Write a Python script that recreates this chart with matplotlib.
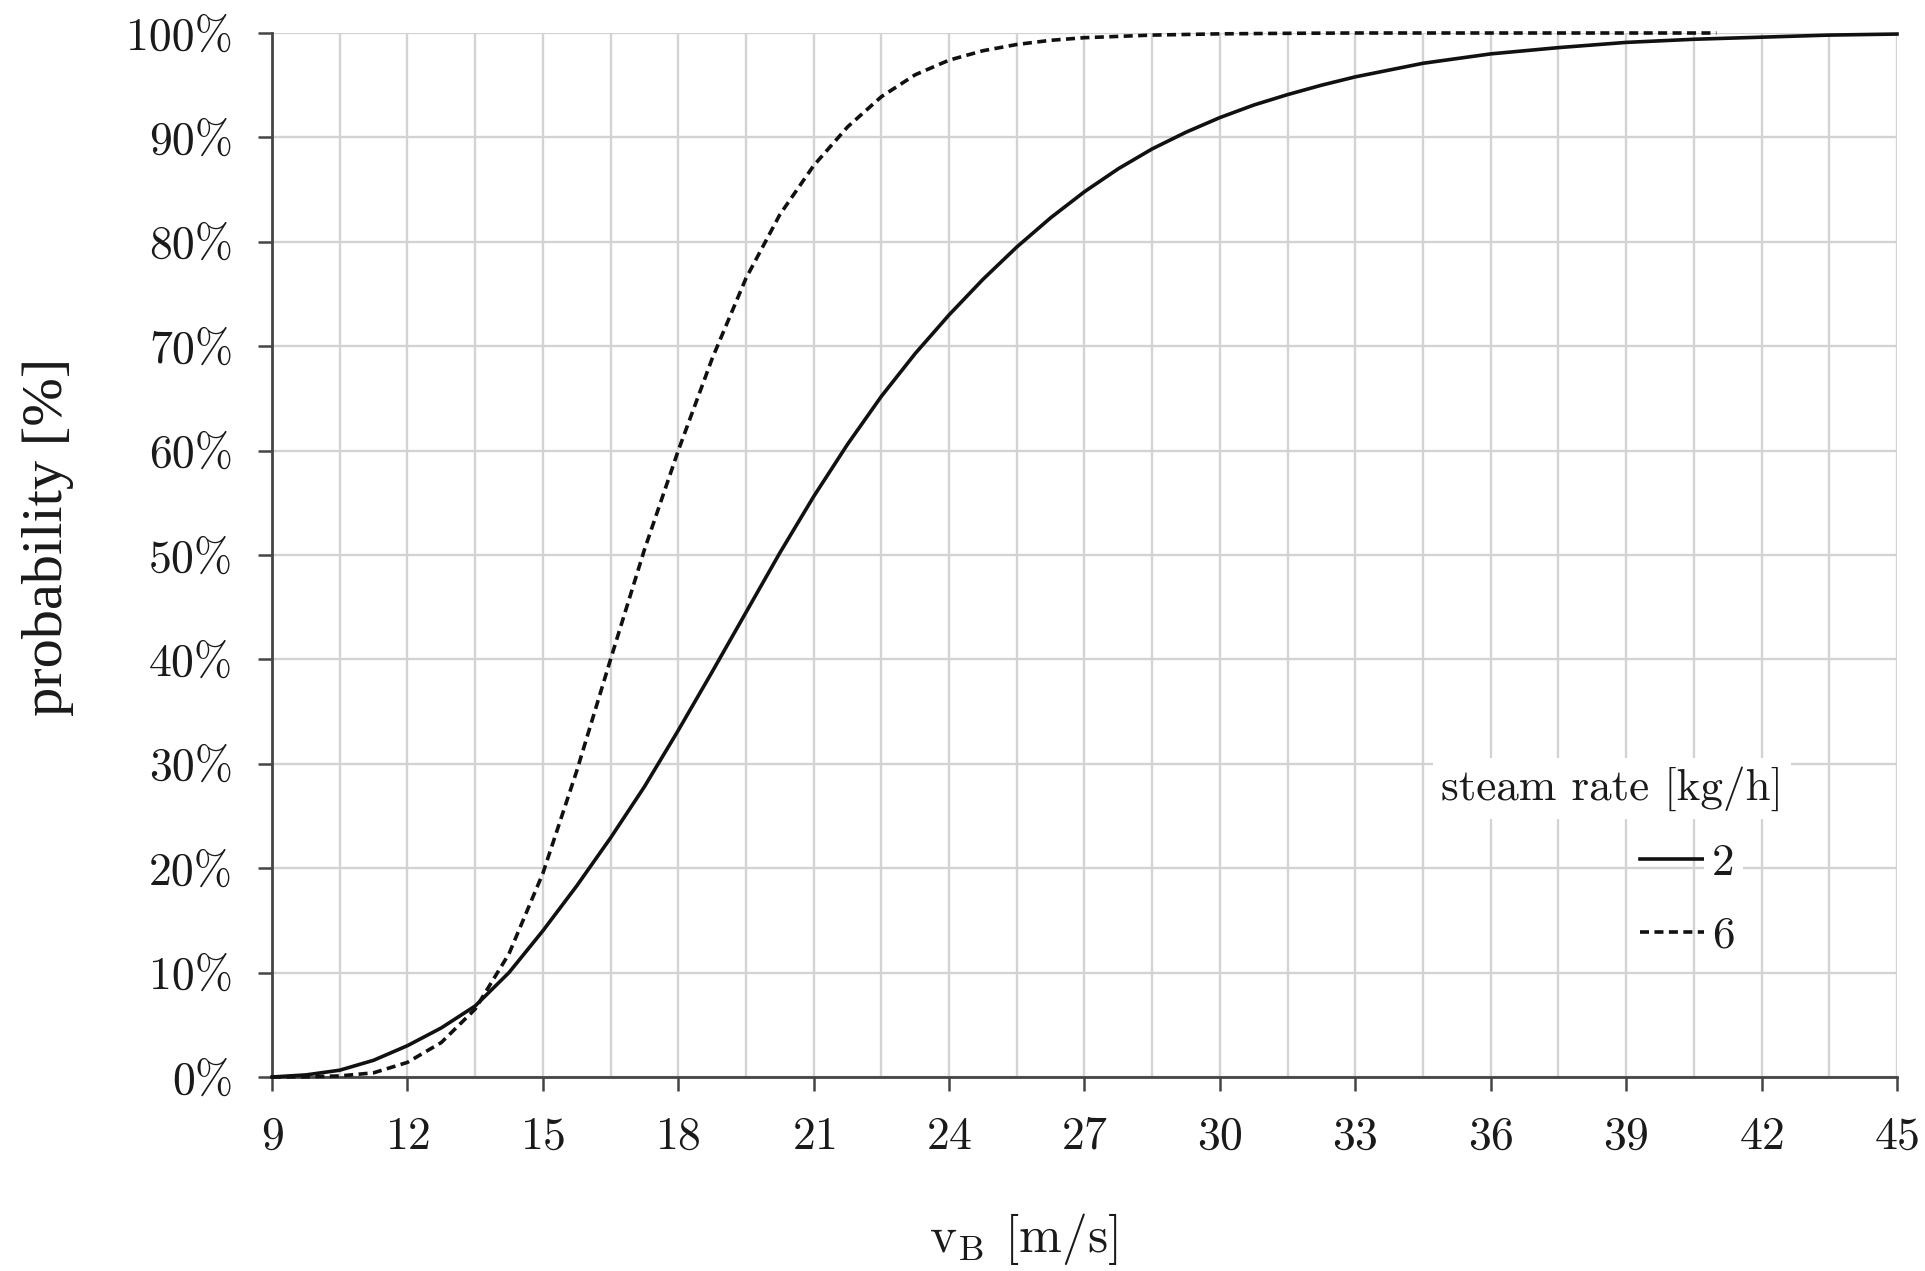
import matplotlib
matplotlib.use("Agg")
import matplotlib.pyplot as plt
from matplotlib.ticker import MultipleLocator, FuncFormatter
from matplotlib.offsetbox import DrawingArea

# ---------------- data ----------------
steam_rates = ["2", "6"]

v_steam2 = [9, 9.75, 10.5, 11.25, 12, 12.75, 13.5, 14.25, 15, 15.75, 16.5, 17.25,
            18, 18.75, 19.5, 20.25, 21, 21.75, 22.5, 23.25, 24, 24.75, 25.5, 26.25,
            27, 27.75, 28.5, 29.25, 30, 30.75, 31.5, 32.25, 33, 34.5, 36, 37.5,
            39, 40.5, 42, 43.5, 45]
p_steam2 = [0, 0.2, 0.65, 1.6, 3.0, 4.7, 6.8, 10.0, 14.0, 18.3, 22.9, 27.8,
            33.2, 38.8, 44.5, 50.2, 55.6, 60.6, 65.2, 69.3, 73.0, 76.4, 79.5, 82.3,
            84.8, 87.0, 88.9, 90.5, 91.9, 93.1, 94.1, 95.0, 95.8, 97.1, 98.0, 98.6,
            99.1, 99.4, 99.6, 99.8, 99.9]

v_steam6 = [9, 9.75, 10.5, 11.25, 12, 12.75, 13.5, 14.25, 15, 15.75, 16.5, 17.25,
            18, 18.75, 19.5, 20.25, 21, 21.75, 22.5, 23.25, 24, 24.75, 25.5, 26.25,
            27, 28.5, 30, 31.5, 33, 36, 39, 41]
p_steam6 = [0, 0.02, 0.1, 0.4, 1.4, 3.3, 6.5, 11.8, 19.5, 29.3, 40.0, 50.5,
            60.0, 68.8, 76.5, 82.6, 87.3, 91.0, 93.9, 96.0, 97.4, 98.3, 98.9, 99.3,
            99.55, 99.8, 99.92, 99.97, 100, 100, 100, 100]

x_major_ticks = [9, 12, 15, 18, 21, 24, 27, 30, 33, 36, 39, 42, 45]
y_ticks = [0, 10, 20, 30, 40, 50, 60, 70, 80, 90, 100]

# ---------------- style ----------------
plt.rcParams["font.family"] = ["cmr10", "DejaVu Serif"]
plt.rcParams["mathtext.fontset"] = "cm"
plt.rcParams["axes.formatter.use_mathtext"] = True

TXT = "#1a1a1a"
GRID = "#d3d3d3"
SPINE = "#454545"
FS = 33

fig = plt.figure(figsize=(19.25, 12.71), dpi=100)
ax = fig.add_axes([272 / 1925, 1 - 1077 / 1271, 1625 / 1925, 1044 / 1271])

ax.plot(v_steam2, p_steam2, color="#111111", lw=2.6, solid_joinstyle="round",
        label=steam_rates[0], zorder=3, clip_on=False)
ax.plot(v_steam6, p_steam6, color="#111111", lw=2.6, linestyle=(0, (2.5, 1.5)),
        label=steam_rates[1], zorder=3, clip_on=False)

ax.set_xlim(9, 45)
ax.set_ylim(0, 100)
ax.set_xticks(x_major_ticks)
ax.xaxis.set_minor_locator(MultipleLocator(1.5))
ax.set_yticks(y_ticks)
ax.yaxis.set_major_formatter(FuncFormatter(lambda v, pos: f"{int(round(v))}%"))

ax.grid(True, which="major", axis="both", color=GRID, lw=1.7, zorder=0)
ax.grid(True, which="minor", axis="x", color=GRID, lw=1.7, zorder=0)
ax.set_axisbelow(True)

for s in ["top", "right"]:
    ax.spines[s].set_visible(False)
for s in ["left", "bottom"]:
    ax.spines[s].set_color(SPINE)
    ax.spines[s].set_linewidth(2.0)

ax.tick_params(axis="both", which="major", direction="out", length=10, width=1.8,
               color=SPINE, labelsize=FS, labelcolor=TXT, pad=18)
ax.tick_params(axis="x", which="minor", length=0)

ax.set_xlabel(r"$\mathrm{v_B}$ [m/s]", fontsize=37, color=TXT)
ax.xaxis.set_label_coords(0.462, -0.128)
ax.set_ylabel("probability [%]", fontsize=42, color=TXT,
              family=["Liberation Serif", "DejaVu Serif"])
ax.yaxis.set_label_coords(-0.122, 0.517)

leg = ax.legend(title="steam rate [kg/h]", loc="upper right",
                bbox_to_anchor=(0.930, 0.298), frameon=False, fontsize=32.5,
                title_fontsize=32.5, alignment="right", handlelength=1.45,
                handletextpad=0.15, labelspacing=0.72, borderpad=0,
                borderaxespad=0)
leg.get_title().set_color(TXT)
leg.get_title().set_bbox(dict(facecolor="white", edgecolor="none", pad=6))
for t in leg.get_texts():
    t.set_color(TXT)
    t.set_bbox(dict(facecolor="white", edgecolor="none", pad=6))
# shift the entries a little to the left of the title's right edge
hbox = leg._legend_handle_box
hbox.sep = 0
hbox.get_children().append(DrawingArea(35, 1))

fig.savefig("out.png", dpi=100, facecolor="white")
